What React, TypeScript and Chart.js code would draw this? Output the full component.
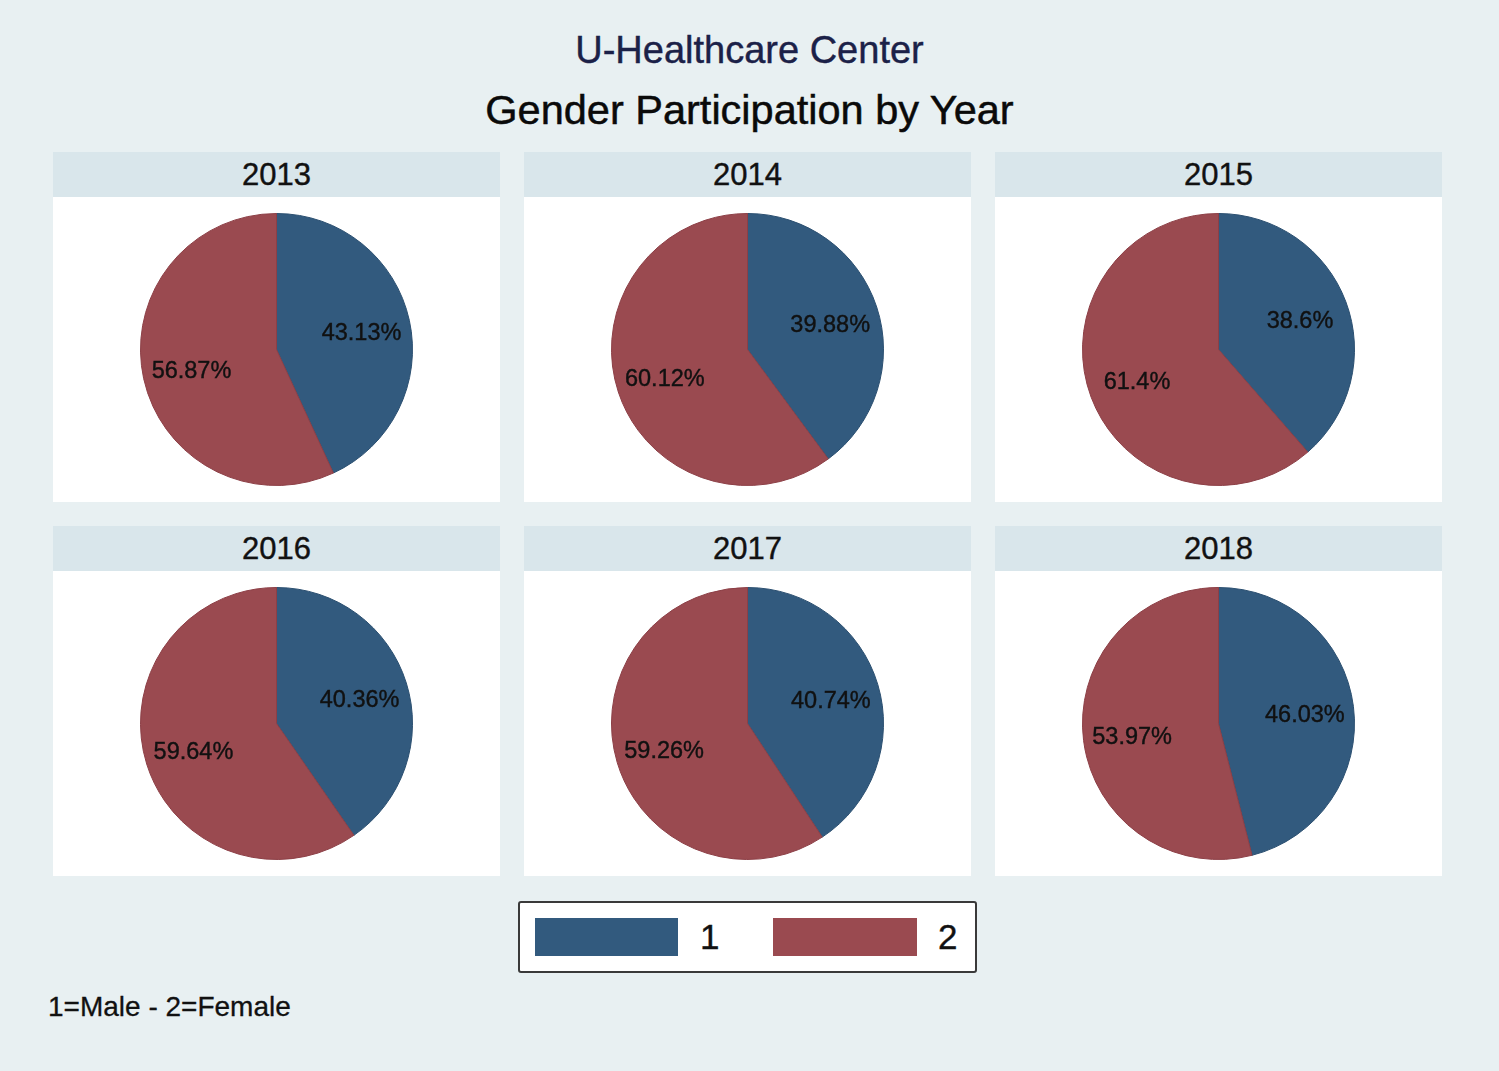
import React, { useEffect, useRef } from "react";
import { Chart, registerables } from "chart.js";

Chart.register(...registerables);

const years = ["2013", "2014", "2015", "2016", "2017", "2018"];
const maleShare = [43.13, 39.88, 38.6, 40.36, 40.74, 46.03];
const femaleShare = [56.87, 60.12, 61.4, 59.64, 59.26, 53.97];
const legendLabels = ["1", "2"];
const titleText = "U-Healthcare Center";
const subtitleText = "Gender Participation by Year";
const noteText = "1=Male - 2=Female";

const BLUE = "#325a7e";
const RED = "#9a4a50";
const BLUE_EDGE = "#2b4f70";
const RED_EDGE = "#8c3f46";
const BG = "#e8f0f2";
const HEADER_BG = "#d9e6eb";
const FONT = "'Liberation Sans', Arial, Helvetica, sans-serif";

const PANEL_X = [53, 524, 995];
const ROW_Y = [152, 526];
const PANEL_W = 447;
const HEADER_H = 45;
const PLOT_H = 305;

const sliceLabelPlugin = {
  id: "sliceLabels",
  afterDatasetsDraw(chart: any) {
    const ctx = chart.ctx;
    const ds = chart.data.datasets[0];
    const meta = chart.getDatasetMeta(0);
    ctx.save();
    ctx.font = `23.5px ${FONT}`;
    ctx.fillStyle = "#111111";
    ctx.strokeStyle = "#111111";
    ctx.lineWidth = 0.4;
    ctx.textAlign = "center";
    ctx.textBaseline = "middle";
    meta.data.forEach((arc: any, i: number) => {
      const p = arc.getProps(["x", "y", "startAngle", "endAngle", "outerRadius"], true);
      const mid = (p.startAngle + p.endAngle) / 2;
      const r = p.outerRadius * 0.64;
      const tx = p.x + Math.cos(mid) * r;
      const ty = p.y + Math.sin(mid) * r + 3;
      const t = `${ds.data[i]}%`;
      ctx.fillText(t, tx, ty);
      ctx.strokeText(t, tx, ty);
    });
    ctx.restore();
  },
};

function PiePanel({ idx }: { idx: number }) {
  const ref = useRef<HTMLCanvasElement>(null);
  const left = PANEL_X[idx % 3];
  const top = ROW_Y[Math.floor(idx / 3)];
  useEffect(() => {
    const chart = new Chart(ref.current as HTMLCanvasElement, {
      type: "pie",
      data: {
        labels: legendLabels,
        datasets: [
          {
            data: [maleShare[idx], femaleShare[idx]],
            backgroundColor: [BLUE, RED],
            borderColor: [BLUE_EDGE, RED_EDGE],
            borderWidth: 1,
            radius: 136,
          } as any,
        ],
      },
      options: {
        responsive: false,
        animation: false,
        layout: { padding: 0 },
        plugins: { legend: { display: false }, tooltip: { enabled: false } },
      },
      plugins: [sliceLabelPlugin],
    });
    return () => chart.destroy();
  }, [idx]);
  return (
    <>
      <div
        style={{
          position: "absolute",
          left,
          top,
          width: PANEL_W,
          height: HEADER_H,
          background: HEADER_BG,
          textAlign: "center",
          lineHeight: `${HEADER_H}px`,
          fontSize: 31,
          fontFamily: FONT,
          color: "#111",
          WebkitTextStroke: "0.4px #111",
        }}
      >
        {years[idx]}
      </div>
      <div
        style={{
          position: "absolute",
          left,
          top: top + HEADER_H,
          width: PANEL_W,
          height: PLOT_H,
          background: "#ffffff",
        }}
      >
        <canvas ref={ref} width={PANEL_W} height={PLOT_H} style={{ width: PANEL_W, height: PLOT_H, display: "block" }} />
      </div>
    </>
  );
}

export default function App() {
  return (
    <div
      style={{
        position: "absolute",
        left: 0,
        top: 0,
        width: 1499,
        height: 1071,
        background: BG,
        overflow: "hidden",
        fontFamily: FONT,
      }}
    >
      <div style={{ position: "absolute", left: 0, width: 1499, top: 28, height: 44, lineHeight: "44px", textAlign: "center", fontSize: 38, color: "#1b2148", WebkitTextStroke: "0.4px #1b2148" }}>
        {titleText}
      </div>
      <div style={{ position: "absolute", left: 0, width: 1499, top: 86, height: 48, lineHeight: "48px", textAlign: "center", fontSize: 41.5, color: "#0a0a0a", WebkitTextStroke: "0.5px #0a0a0a" }}>
        {subtitleText}
      </div>
      {years.map((_, i) => (
        <PiePanel key={i} idx={i} />
      ))}
      <div
        style={{
          position: "absolute",
          left: 518,
          top: 901,
          width: 459,
          height: 72,
          boxSizing: "border-box",
          border: "2px solid #3a3a3a",
          borderRadius: 3,
          background: "#ffffff",
        }}
      >
        <div style={{ position: "absolute", left: 15, top: 15, width: 143, height: 38, background: BLUE }} />
        <div style={{ position: "absolute", left: 180, top: 8, height: 52, lineHeight: "52px", fontSize: 35, color: "#111", WebkitTextStroke: "0.4px #111" }}>{legendLabels[0]}</div>
        <div style={{ position: "absolute", left: 253, top: 15, width: 144, height: 38, background: RED }} />
        <div style={{ position: "absolute", left: 418, top: 8, height: 52, lineHeight: "52px", fontSize: 35, color: "#111", WebkitTextStroke: "0.4px #111" }}>{legendLabels[1]}</div>
      </div>
      <div style={{ position: "absolute", left: 48, top: 990, height: 34, lineHeight: "34px", fontSize: 28, color: "#111", WebkitTextStroke: "0.3px #111" }}>{noteText}</div>
    </div>
  );
}
